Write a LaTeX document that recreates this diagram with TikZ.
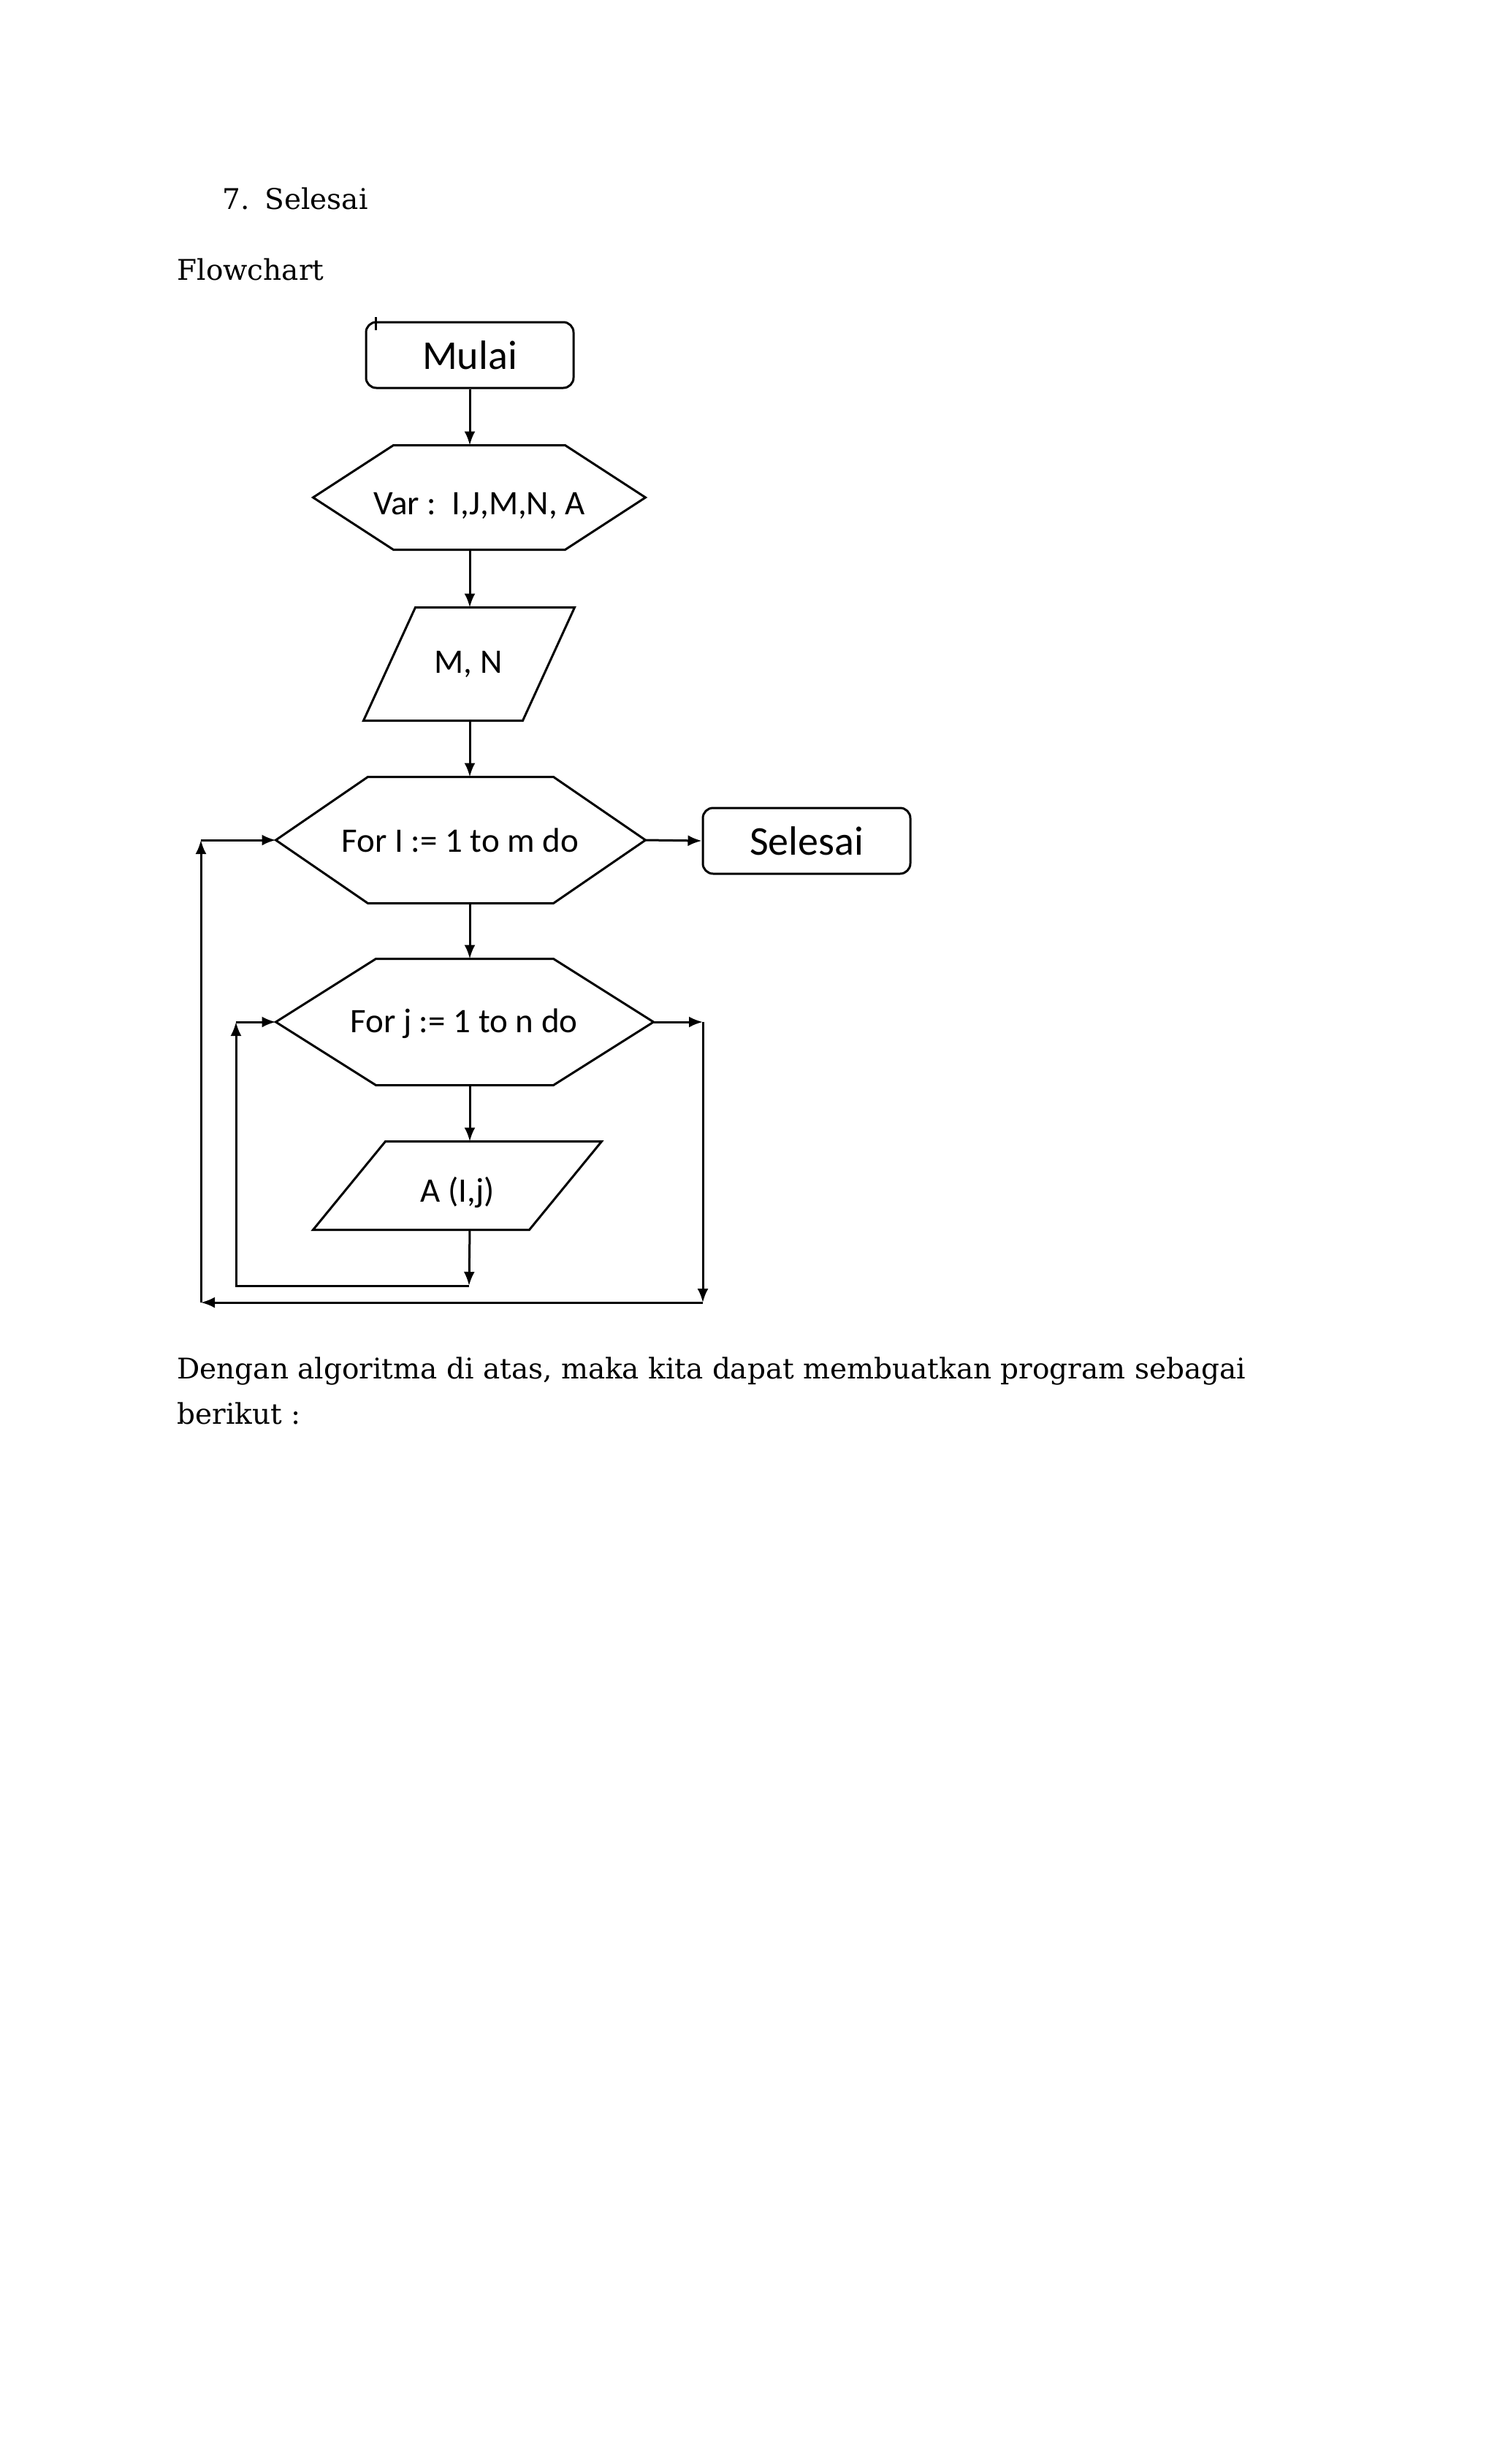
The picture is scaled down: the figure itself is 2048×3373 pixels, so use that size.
\documentclass[tikz,border=0pt]{standalone}
\usepackage{fontspec}
\setmainfont{DejaVu Serif}
\newfontfamily\calib{Carlito}
\usetikzlibrary{arrows.meta,calc}
\newcommand\hexo[2]{\draw (#1.west) -- ($(#1.north west)+(#2,0)$) -- ($(#1.north east)+(-#2,0)$) -- (#1.east) -- ($(#1.south east)+(-#2,0)$) -- ($(#1.south west)+(#2,0)$) -- cycle;}
\newcommand\paral[2]{\draw ($(#1.north west)+(#2,0)$) -- (#1.north east) -- ($(#1.south east)+(-#2,0)$) -- (#1.south west) -- cycle;}
\begin{document}
\begin{tikzpicture}[x=1pt,y=-1pt,
  line width=3pt,
  arr/.style={-{Latex[length=19pt,width=15pt]}},
  body/.style={anchor=base west, inner sep=0, font=\fontsize{39}{47}\selectfont},
  term/.style={draw, rounded corners=14pt, inner sep=0, minimum width=284pt, minimum height=90pt, font=\calib\fontsize{56}{60}\selectfont},
  frame/.style={draw=none, inner sep=0},
  lbl/.style={inner sep=0, font=\calib\fontsize{47}{50}\selectfont},
]
\useasboundingbox[fill=white] (0,0) rectangle (2048,3373);

\node[body] (num) at (303,286) {7.};
\node[body] (sel) at (361,286) {Selesai};
\node[body] (fc) at (241,383) {Flowchart};

\node[term] (mulai) at (643,486) {Mulai};
\draw (514,434) -- (514,452);

\node[frame, minimum width=452pt, minimum height=140pt] (var) at (656,681) {};
\node[lbl] (vart) at (656,692) {Var :\ \ I,J,M,N, A};
\hexo{var}{110}

\node[frame, minimum width=286pt, minimum height=152pt] (mn) at (642,909) {};
\node[lbl] (mnt) at (641,909) {M, N};
\paral{mn}{71}

\node[frame, minimum width=503pt, minimum height=170pt] (fi) at (630.5,1150) {};
\node[lbl] (fit) at (630,1150) {For I := 1 to m do};
\hexo{fi}{126}

\node[term] (fin) at (1104,1151) {Selesai};

\node[frame, minimum width=514pt, minimum height=170pt] (fj) at (636,1399) {};
\node[lbl] (fjt) at (635,1401) {For j := 1 to n do};
\hexo{fj}{137}

\node[frame, minimum width=392pt, minimum height=118pt] (aij) at (626,1623) {};
\node[lbl] (aijt) at (626,1632) {A (I,j)};
\paral{aij}{99}

\draw[arr] (mulai.south) -- (mulai.south |- var.north);
\draw[arr] (mulai.south |- var.south) -- (mulai.south |- mn.north);
\draw[arr] (mulai.south |- mn.south) -- (mulai.south |- fi.north);
\draw[arr] (fi.east) -- (fin.west);
\draw[arr] (mulai.south |- fi.south) -- (mulai.south |- fj.north);
\draw[arr] (mulai.south |- fj.south) -- (mulai.south |- aij.north);

\coordinate (ib) at (642,1760);
\coordinate (il) at (323,1760);
\draw[arr] (mulai.south |- aij.south) -- (ib);
\draw[arr] (ib) -- (il) -- (il |- fj.west);
\draw[arr] (il |- fj.west) -- (fj.west);

\coordinate (or) at (962,1783);
\coordinate (ol) at (275,1783);
\draw[arr] (fj.east) -- (or |- fj.east);
\draw[arr] (or |- fj.east) -- (or);
\draw[arr] (or) -- (ol);
\draw[arr] (ol) -- (ol |- fi.west);
\draw[arr] (ol |- fi.west) -- (fi.west);

\node[body] (p1) at (241,1887) {Dengan algoritma di atas, maka kita dapat membuatkan program sebagai};
\node[body] (p2) at (241,1949) {berikut :};
\end{tikzpicture}
\end{document}
